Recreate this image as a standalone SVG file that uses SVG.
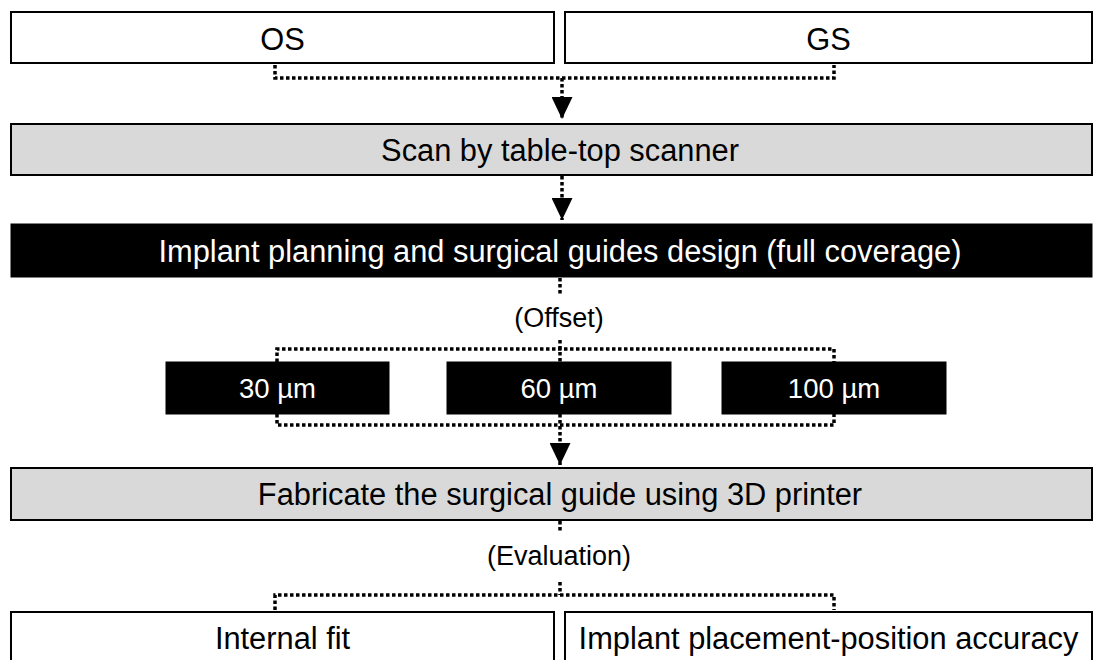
<svg xmlns="http://www.w3.org/2000/svg" width="1102" height="660" viewBox="0 0 1102 660">
<style>
.box{fill:#fff;stroke:#000;stroke-width:2}
.gray{fill:#d9d9d9;stroke:#000;stroke-width:2}
.dark{fill:#000;stroke:#000;stroke-width:1}
.t{font-family:"Liberation Sans",Arial,sans-serif;font-size:30.8px;fill:#000;text-anchor:middle}
.tw{font-family:"Liberation Sans",Arial,sans-serif;font-size:30.8px;fill:#fff;text-anchor:middle}
.ts{font-family:"Liberation Sans",Arial,sans-serif;font-size:27.5px;fill:#fff;text-anchor:middle}
.tl{font-family:"Liberation Sans",Arial,sans-serif;font-size:27px;fill:#000;text-anchor:middle}
.dot{fill:none;stroke:#000;stroke-width:3.5;stroke-dasharray:3.5 2.5}
</style>
<defs>
<marker id="arr" markerUnits="userSpaceOnUse" viewBox="0 0 22 21" markerWidth="22" markerHeight="21" refX="22" refY="10.5" orient="auto">
<path d="M0,0 L22,10.5 L0,21 Z" fill="#000"/>
</marker>
</defs>
<rect width="1102" height="660" fill="#fff"/>
<g id="os"><rect class="box" x="11" y="12" width="543" height="51"/><text class="t" x="282.5" y="50">OS</text></g>
<g id="gs"><rect class="box" x="565" y="12" width="527" height="51"/><text class="t" x="828.5" y="50">GS</text></g>
<g id="scan"><rect class="gray" x="11" y="124" width="1081" height="51"/><text class="t" x="560" y="161">Scan by table-top scanner</text></g>
<g id="design"><rect class="dark" x="11" y="224" width="1081" height="53"/><text class="tw" x="560" y="262">Implant planning and surgical guides design (full coverage)</text></g>
<g id="offset-label"><text class="tl" x="559" y="327">(Offset)</text></g>
<g id="o30"><rect class="dark" x="166" y="362" width="223" height="52"/><text class="ts" x="277.5" y="398">30 µm</text></g>
<g id="o60"><rect class="dark" x="447" y="362" width="224" height="52"/><text class="ts" x="559" y="398">60 µm</text></g>
<g id="o100"><rect class="dark" x="722" y="362" width="224" height="52"/><text class="ts" x="834" y="398">100 µm</text></g>
<g id="fabricate"><rect class="gray" x="11" y="468" width="1081" height="52"/><text class="t" x="560" y="505">Fabricate the surgical guide using 3D printer</text></g>
<g id="eval-label"><text class="tl" x="559" y="565">(Evaluation)</text></g>
<g id="fit"><rect class="box" x="11" y="612" width="543" height="60"/><text class="t" x="282.5" y="649">Internal fit</text></g>
<g id="accuracy"><rect class="box" x="565" y="612" width="527" height="60"/><text class="t" x="828.5" y="649">Implant placement-position accuracy</text></g>
<g id="connectors">
<path class="dot" d="M275,65 V78 H834 V65"/>
<path class="dot" d="M562,78 V119" marker-end="url(#arr)"/>
<path class="dot" d="M562,176 V220" marker-end="url(#arr)"/>
<path class="dot" d="M560,278 V294"/>
<path class="dot" d="M277,362 V349 H834 V362"/>
<path class="dot" d="M560,340 V362"/>
<path class="dot" d="M277,414 V425 H834 V414"/>
<path class="dot" d="M560,414 V465" marker-end="url(#arr)"/>
<path class="dot" d="M560,521 V533"/>
<path class="dot" d="M560,582 V595"/>
<path class="dot" d="M275,610 V595 H834 V610"/>
</g>
</svg>
